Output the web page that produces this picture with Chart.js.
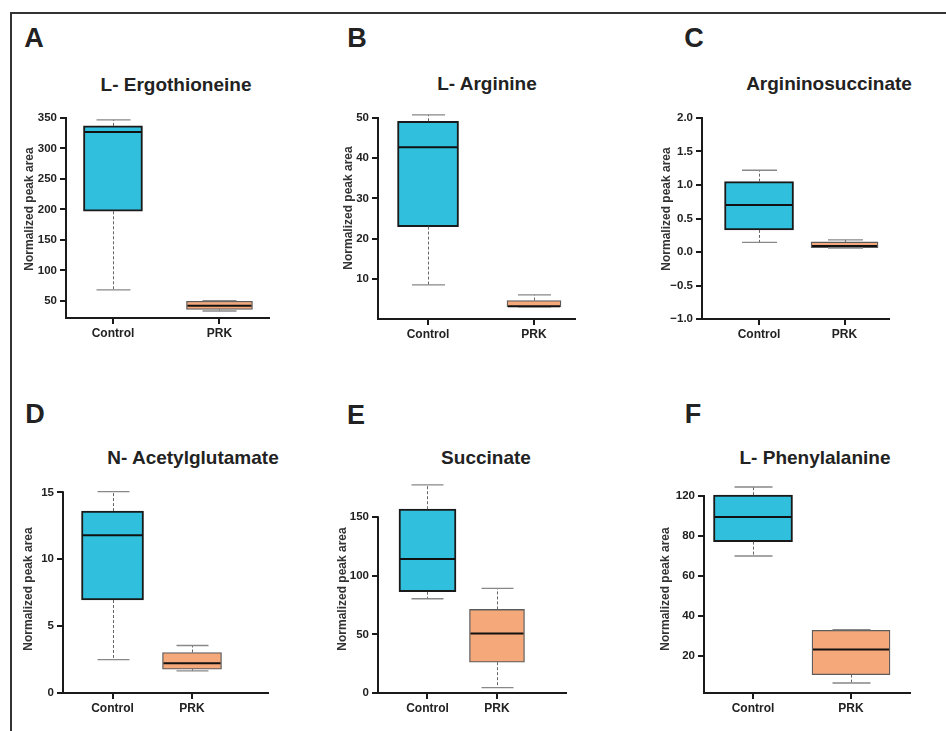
<!DOCTYPE html>
<html>
<head>
<meta charset="utf-8">
<title>Box plots</title>
<script src="https://cdn.jsdelivr.net/npm/chart.js@4.4.1/dist/chart.umd.min.js"></script>
<style>
  html, body { margin: 0; padding: 0; background: #fff; }
  body {
    width: 946px; height: 731px; position: relative; overflow: hidden;
    font-family: "Liberation Sans", Arial, sans-serif; color: #222;
  }
  .frame {
    position: absolute; left: 10px; top: 12px; width: 960px; height: 740px;
    border-top: 2px solid #333; border-left: 2px solid #333;
  }
  .letter, .title {
    position: absolute; font-weight: bold; line-height: 1;
    transform: translate(-50%, -50%); white-space: nowrap;
  }
  .letter { font-size: 27px; }
  .title { font-size: 19px; }
  .panel { position: absolute; }
</style>
</head>
<body>
<div class="frame"></div>
<script>
// groups on the x axis
const groups = ["Control", "PRK"];

// five-number summaries: [min, q1, median, q3, max]
const ergothioneineControl = [68, 197, 327, 337, 347];
const ergothioneinePrk = [33.5, 36, 42, 49.5, 50.5];
const arginineControl = [8.5, 23, 42.7, 49.2, 50.8];
const argininePrk = [3.0, 3.0, 3.2, 4.6, 6.0];
const argininosuccinateControl = [0.145, 0.33, 0.7, 1.05, 1.22];
const argininosuccinatePrk = [0.06, 0.065, 0.09, 0.15, 0.18];
const acetylglutamateControl = [2.5, 6.95, 11.8, 13.6, 15.05];
const acetylglutamatePrk = [1.65, 1.78, 2.22, 3.03, 3.55];
const succinateControl = [80.4, 86.4, 114.3, 156.8, 177.6];
const succinatePrk = [4.6, 26.3, 50.8, 71.3, 89.3];
const phenylalanineControl = [70, 77.2, 89.5, 100.4, 104.5];
const phenylalaninePrk = [6.5, 10.7, 23.2, 32.8, 33.2];

// y tick values and their labels
const ergothioneineTicks = [50, 100, 150, 200, 250, 300, 350];
const arginineTicks = [10, 20, 30, 40, 50];
const argininosuccinateTicks = [-1, -0.5, 0, 0.5, 1, 1.5, 2];
const argininosuccinateTickLabels = ["\u22121.0", "\u22120.5", "0.0", "0.5", "1.0", "1.5", "2.0"];
const acetylglutamateTicks = [0, 5, 10, 15];
const succinateTicks = [0, 50, 100, 150];
const phenylalanineTicks = [20, 40, 60, 80, 100];
const phenylalanineTickLabels = ["20", "40", "60", "80", "120"];

const yAxisTitle = "Normalized peak area";

const panels = [
  { letter: "A", title: "L- Ergothioneine", control: ergothioneineControl, prk: ergothioneinePrk,
    ticks: ergothioneineTicks, labels: ergothioneineTicks.map(String),
    yMin: 22, yMax: 350, axisTop: 350, xMin: -0.441, xMax: 1.465,
    left: 66, right: 269, top: 118, bottom: 318, boxW: [59, 66], capW: 34,
    yTitleX: 29.5, yTitleY: 209,
    titleX: 176, titleY: 84, letterX: 34, letterY: 38 },
  { letter: "B", title: "L- Arginine", control: arginineControl, prk: argininePrk,
    ticks: arginineTicks, labels: arginineTicks.map(String),
    yMin: 0, yMax: 51, axisTop: 50, xMin: -0.472, xMax: 1.387,
    left: 378, right: 575, top: 114, bottom: 319, boxW: [61, 54], capW: 33,
    yTitleX: 349, yTitleY: 208,
    titleX: 487, titleY: 83, letterX: 357, letterY: 38 },
  { letter: "C", title: "Argininosuccinate", control: argininosuccinateControl, prk: argininosuccinatePrk,
    ticks: argininosuccinateTicks, labels: argininosuccinateTickLabels,
    yMin: -1, yMax: 2, axisTop: 2, xMin: -0.667, xMax: 1.52,
    left: 702, right: 889, top: 118, bottom: 319, boxW: [69, 67], capW: 35,
    yTitleX: 667, yTitleY: 209,
    titleX: 829, titleY: 83, letterX: 694, letterY: 38 },
  { letter: "D", title: "N- Acetylglutamate", control: acetylglutamateControl, prk: acetylglutamatePrk,
    ticks: acetylglutamateTicks, labels: acetylglutamateTicks.map(String),
    yMin: 0, yMax: 15.1, axisTop: 15, xMin: -0.623, xMax: 1.956,
    left: 63, right: 268, top: 491, bottom: 693, boxW: [62, 59], capW: 32,
    yTitleX: 28.5, yTitleY: 589,
    titleX: 193, titleY: 457, letterX: 35, letterY: 414 },
  { letter: "E", title: "Succinate", control: succinateControl, prk: succinatePrk,
    ticks: succinateTicks, labels: succinateTicks.map(String),
    yMin: 0, yMax: 180, axisTop: 150, xMin: -0.712, xMax: 1.993,
    left: 378, right: 566, top: 482, bottom: 693, boxW: [57, 55], capW: 32,
    yTitleX: 342.5, yTitleY: 589,
    titleX: 486, titleY: 457, letterX: 356, letterY: 415 },
  { letter: "F", title: "L- Phenylalanine", control: phenylalanineControl, prk: phenylalaninePrk,
    ticks: phenylalanineTicks, labels: phenylalanineTickLabels,
    yMin: 1.5, yMax: 105, axisTop: 100, xMin: -0.5, xMax: 1.602,
    left: 704, right: 910, top: 486, bottom: 693, boxW: [79, 78], capW: 38,
    yTitleX: 666, yTitleY: 589,
    titleX: 815, titleY: 457, letterX: 693, letterY: 414 },
];

Chart.defaults.font.family = '"Liberation Sans", Arial, sans-serif';
Chart.defaults.color = "#222";

const YW = 62, XH = 32, PT = 12, PR = 12;

// y axis line, whiskers, caps, medians (through the scales) and the y axis title
const boxWhiskers = {
  id: "boxWhiskers",
  afterDatasetsDraw(chart, args, opts) {
    const { ctx, chartArea, scales: { y } } = chart;
    const py = (v) => y.getPixelForValue(v);
    ctx.save();
    ctx.strokeStyle = "#1a1a1a";
    ctx.lineWidth = 2;
    ctx.beginPath();
    ctx.moveTo(chartArea.left, chartArea.bottom + 1);
    ctx.lineTo(chartArea.left, py(opts.axisTop) - 1);
    ctx.stroke();

    chart.data.datasets.forEach((ds, di) => {
      const bar = chart.getDatasetMeta(di).data[0];
      if (!bar) return;
      const s = ds.stats;
      const cx = Math.round(bar.x) + 0.5;
      const half = bar.width / 2;

      ctx.strokeStyle = "#666";
      ctx.lineWidth = 1;
      ctx.setLineDash([3, 2]);
      ctx.beginPath();
      ctx.moveTo(cx, py(s[3]));
      ctx.lineTo(cx, py(s[4]));
      ctx.moveTo(cx, py(s[1]));
      ctx.lineTo(cx, py(s[0]));
      ctx.stroke();
      ctx.setLineDash([]);

      ctx.strokeStyle = "#888";
      ctx.lineWidth = 1.3;
      ctx.beginPath();
      ctx.moveTo(cx - opts.capW / 2, py(s[4]));
      ctx.lineTo(cx + opts.capW / 2, py(s[4]));
      ctx.moveTo(cx - opts.capW / 2, py(s[0]));
      ctx.lineTo(cx + opts.capW / 2, py(s[0]));
      ctx.stroke();

      ctx.strokeStyle = "#111";
      ctx.lineWidth = 2;
      ctx.beginPath();
      ctx.moveTo(bar.x - half + 1, py(s[2]));
      ctx.lineTo(bar.x + half - 1, py(s[2]));
      ctx.stroke();
    });

    // rotated y axis title, placed relative to the plot area
    ctx.translate(chartArea.left - opts.titleDx, chartArea.top + opts.titleDy);
    ctx.rotate(-Math.PI / 2);
    ctx.fillStyle = "#333";
    ctx.font = 'bold 12px "Liberation Sans", Arial, sans-serif';
    ctx.textAlign = "center";
    ctx.textBaseline = "middle";
    ctx.fillText(opts.text, 0, 0);
    ctx.restore();
  },
};

const addText = (cls, text, x, y) => {
  const el = document.createElement("div");
  el.className = cls;
  el.textContent = text;
  el.style.left = x + "px";
  el.style.top = y + "px";
  document.body.appendChild(el);
};

panels.forEach((p) => {
  addText("letter", p.letter, p.letterX, p.letterY);
  addText("title", p.title, p.titleX, p.titleY);

  const wrap = document.createElement("div");
  wrap.className = "panel";
  wrap.style.left = p.left - YW + "px";
  wrap.style.top = p.top - PT + "px";
  wrap.style.width = p.right - p.left + YW + PR + "px";
  wrap.style.height = p.bottom - p.top + PT + XH + "px";
  const canvas = document.createElement("canvas");
  wrap.appendChild(canvas);
  document.body.appendChild(wrap);

  new Chart(canvas, {
    type: "bar",
    data: {
      datasets: [
        {
          label: groups[0],
          data: [{ x: 0, y: [p.control[1], p.control[3]] }],
          stats: p.control,
          backgroundColor: "#30c0de",
          borderColor: "#1a1a1a",
          borderWidth: 2,
          barThickness: p.boxW[0],
          grouped: false,
          borderSkipped: false,
        },
        {
          label: groups[1],
          data: [{ x: 1, y: [p.prk[1], p.prk[3]] }],
          stats: p.prk,
          backgroundColor: "#f5a97a",
          borderColor: "#5c5c5c",
          borderWidth: 1.3,
          barThickness: p.boxW[1],
          grouped: false,
          borderSkipped: false,
        },
      ],
    },
    options: {
      responsive: true,
      maintainAspectRatio: false,
      animation: false,
      layout: { padding: { top: PT, right: PR, left: 0, bottom: 0 }, autoPadding: false },
      plugins: {
        legend: { display: false },
        tooltip: { enabled: false },
        boxWhiskers: {
          capW: p.capW,
          axisTop: p.axisTop,
          text: yAxisTitle,
          titleDx: p.left - p.yTitleX,
          titleDy: p.yTitleY - p.top,
        },
      },
      scales: {
        x: {
          type: "linear",
          min: p.xMin,
          max: p.xMax,
          bounds: "data",
          offset: false,
          grid: { drawOnChartArea: false, tickLength: 6, color: "#1a1a1a", lineWidth: 2, offset: false },
          border: { display: true, color: "#1a1a1a", width: 2 },
          ticks: {
            autoSkip: false,
            maxRotation: 0,
            padding: 2,
            color: "#222",
            font: { size: 12, weight: "bold" },
            callback: (v, i) => groups[i],
          },
          afterBuildTicks: (s) => { s.ticks = groups.map((g, i) => ({ value: i })); },
          afterFit: (s) => { s.height = XH; },
        },
        y: {
          type: "linear",
          min: p.yMin,
          max: p.yMax,
          bounds: "data",
          beginAtZero: false,
          grid: { drawOnChartArea: false, tickLength: 6, color: "#1a1a1a", lineWidth: 2 },
          border: { display: false },
          ticks: {
            autoSkip: false,
            padding: 3,
            color: "#222",
            font: { size: 11.5, weight: "bold" },
            callback: (v, i) => p.labels[i],
          },
          afterBuildTicks: (s) => { s.ticks = p.ticks.map((v) => ({ value: v })); },
          afterFit: (s) => { s.width = YW; },
        },
      },
    },
    plugins: [boxWhiskers],
  });
});
</script>
</body>
</html>
